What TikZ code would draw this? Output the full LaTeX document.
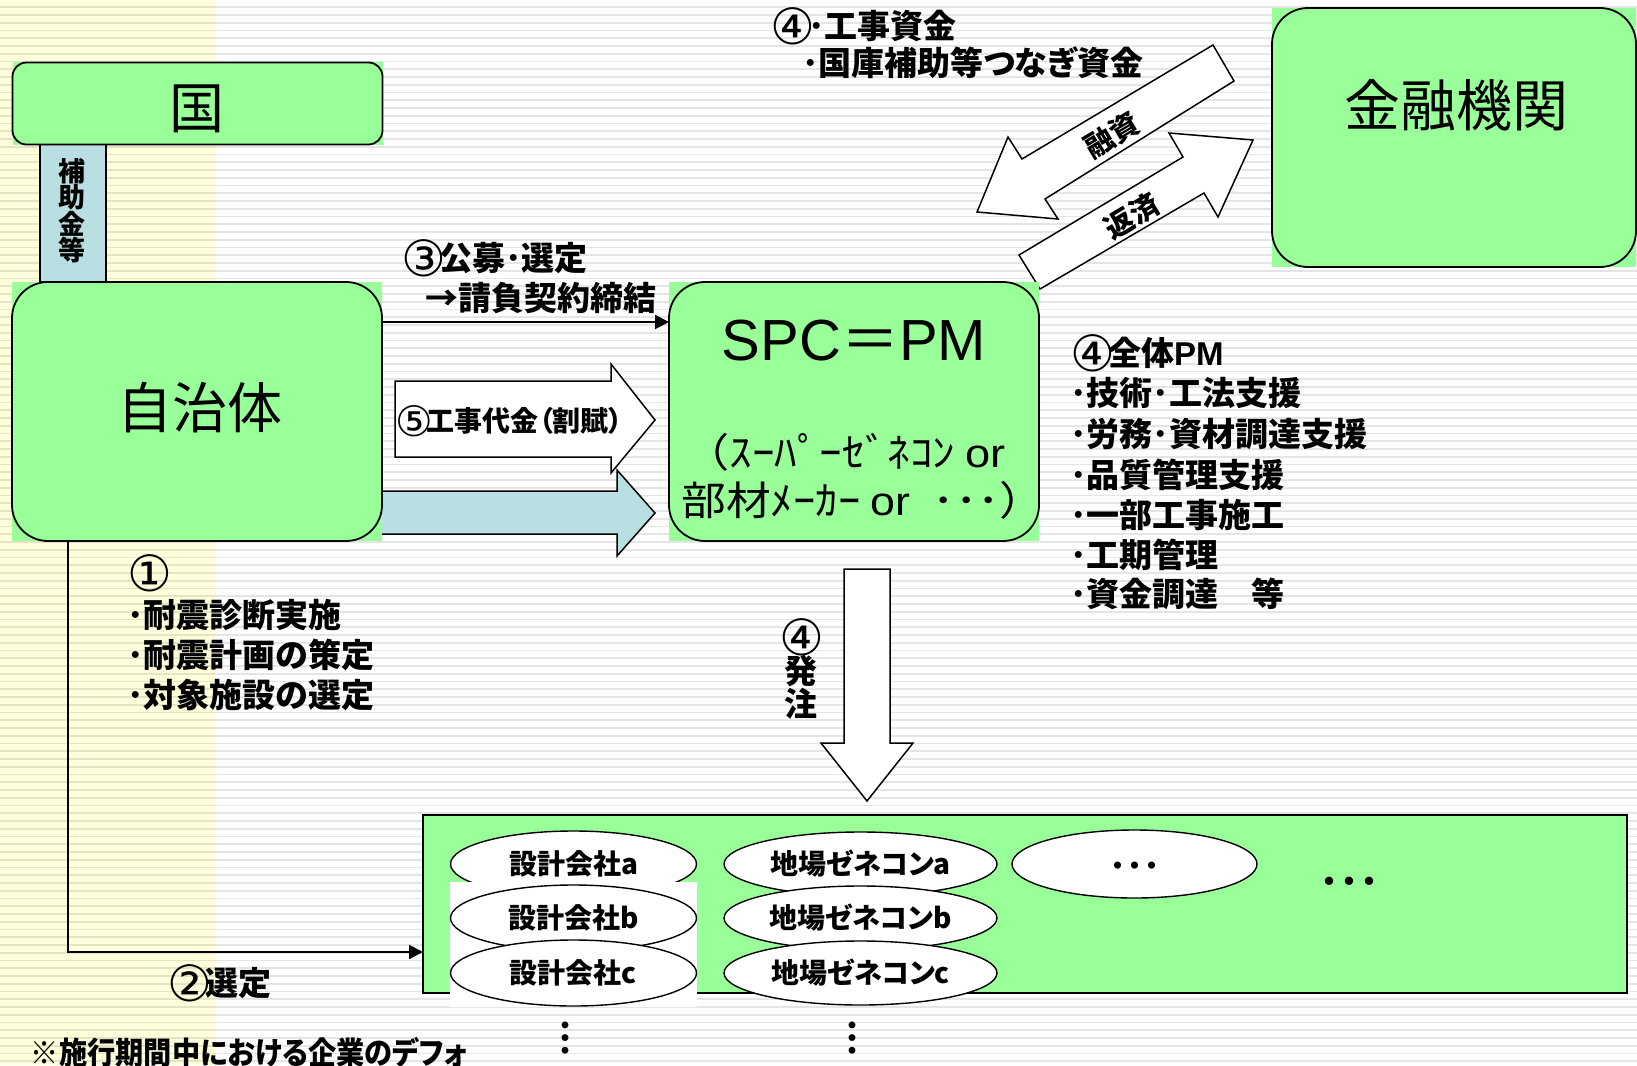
\documentclass[tikz,border=0pt]{standalone}
\usepackage{fontspec}
\setmainfont{Liberation Sans}
\newfontfamily\lat{Liberation Sans}
\newfontfamily\dv{DejaVu Sans}
\newfontfamily\jp[RawFeature=+palt]{Noto Sans CJK JP}
\newfontfamily\jpn{Noto Sans CJK JP}
% circled digit: [font size]{glyph}
\newcommand\circd[2][25]{\makebox[\dimexpr #1pt*19/25\relax][l]{\raisebox{\dimexpr -#1pt*3/25\relax}{\dv\mdseries\fontsize{#1}{#1}\selectfont #2}}}
\usetikzlibrary{arrows.meta,shapes.geometric}
\definecolor{pgreen}{HTML}{99FF99}
\definecolor{pblue}{HTML}{B9DFE3}
\definecolor{pyellow}{HTML}{FFFFDC}
\begin{document}
\begin{tikzpicture}[x=0.5pt,y=-0.5pt,
  every node/.style={inner sep=0pt, outer sep=0pt},
  gbox/.style={rectangle, fill=pgreen},
  rbord/.style={draw=black, line width=0.9pt},
  lbl/.style={font=\jp\bfseries\fontsize{16.5}{20}\selectfont, anchor=base west},
  big/.style={font=\jp\fontsize{27.5}{30}\selectfont},
  blk/.style={draw=black, line width=0.75pt, line join=miter},
  conn/.style={draw=black, line width=1pt, -{Triangle[length=7pt,width=7pt]}},
  ell/.style={ellipse, draw=black, fill=white, line width=0.7pt, font=\jp\bfseries\fontsize{14}{16}\selectfont},
  vdots/.style={font=\jp\bfseries\fontsize{19}{20}\selectfont},
  stripe/.style={draw=black, opacity=0.1, line width=0.9pt}
]
\useasboundingbox (0,0) rectangle (1637,1065);
\clip (0,0) rectangle (1637,1065);
% background
\fill[white] (0,0) rectangle (1637,1065);
\fill[pyellow] (0,0) rectangle (216,1065);
\foreach \k in {0,...,137} \draw[stripe] (0,{7.25+7.75*\k}) -- (1637,{7.25+7.75*\k});

% block arrows (behind boxes)
\draw[blk, fill=white] (395,381) -- (611,381) -- (611,364) -- (655,420) -- (611,473) -- (611,457) -- (395,457) -- cycle;
\draw[blk, fill=pblue] (370,491) -- (617,491) -- (617,470) -- (655,513) -- (617,556) -- (617,534) -- (370,534) -- cycle;
\draw[blk, fill=white] (1213,45) -- (1234,81) -- (1045,199) -- (1058,219) -- (977,212) -- (1008,137) -- (1022,159) -- cycle;
\draw[blk, fill=white] (1019,255) -- (1183,157) -- (1169,133) -- (1253,140) -- (1218,217) -- (1204,193) -- (1040,289) -- cycle;
\draw[blk, fill=white] (844,569) -- (890,569) -- (890,743) -- (913,743) -- (867,801) -- (821,743) -- (844,743) -- cycle;

% subsidy bar
\node[fill=pblue, draw=black, line width=0.9pt, minimum width=33pt, minimum height=69pt] (hojo) at (73,213) {};
\node[font=\jp\bfseries\fontsize{13.5}{13.25}\selectfont, align=center] (hojot) at (72,211) {補\\助\\金\\等};

% boxes
\node[gbox, minimum width=185pt, minimum height=41pt] (kuni) at (197.5,103.5) {};
\draw[rbord, rounded corners=7pt] (kuni.south west) rectangle (kuni.north east);
\node[gbox, minimum width=185pt, minimum height=129.5pt] (jichi) at (197,411.5) {};
\draw[rbord, rounded corners=18pt] (jichi.south west) rectangle (jichi.north east);
\node[gbox, minimum width=185pt, minimum height=129.5pt] (spc) at (854,411.5) {};
\draw[rbord, rounded corners=18pt] (spc.south west) rectangle (spc.north east);
\node[gbox, minimum width=182pt, minimum height=129.5pt] (kinyu) at (1454,137.5) {};
\draw[rbord, rounded corners=18pt] (kinyu.south west) rectangle (kinyu.north east);

\node[big] (kunit) at (197,109) {国};
\node[big] (jichit) at (200,408) {自治体};
\node[font=\jp\fontsize{28}{30}\selectfont] (kinyut) at (1456,105) {金融機関};
\node[font=\lat\fontsize{29}{32}\selectfont] (spct) at (854,341) {SPC{\jp ＝}PM};
\node[font=\jpn\fontsize{20}{22}\selectfont] (spcl1) at (845,452) {\scalebox{1.13}[1]{（ｽｰﾊﾟｰｾﾞﾈｺﾝ {\lat or}}};
\node[font=\jpn\fontsize{20}{22}\selectfont] (spcl2) at (863,500) {\scalebox{1.12}[1]{部材ﾒｰｶｰ {\lat or}\enspace ･･･）}};

% bottom box
\node[fill=pgreen, draw=black, line width=0.9pt, minimum width=602pt, minimum height=89pt] (bot) at (1025,904) {};
\node[ell, minimum width=123pt, minimum height=33pt] (da) at (573.5,864) {設計会社a};
\fill[white] (450,882) rectangle (697,1007);
\node[ell, minimum width=123pt, minimum height=33pt] (db) at (573.5,918) {設計会社b};
\node[ell, minimum width=123pt, minimum height=33pt] (dc) at (573.5,973) {設計会社c};
\node[ell, minimum width=136.5pt, minimum height=32pt] (ga) at (860.5,864) {地場ゼネコンa};
\node[ell, minimum width=136.5pt, minimum height=32pt] (gb) at (860.5,918) {地場ゼネコンb};
\node[ell, minimum width=136.5pt, minimum height=32pt] (gc) at (860.5,973) {地場ゼネコンc};
\node[ell, minimum width=122.5pt, minimum height=34pt] (oth) at (1134.5,864) {};
\node[font=\jp\bfseries\fontsize{17}{18}\selectfont] (otht) at (1134.5,870) {･･･};
\node[font=\jp\bfseries\fontsize{20}{22}\selectfont] (more) at (1349,887) {･･･};
\node[vdots] (vd1) at (565,1038) {︙};
\node[vdots] (vd2) at (852,1038) {︙};

% connectors
\coordinate (r3) at (0,322);
\draw[conn] (jichi.east |- r3) -- (spc.west |- r3);
\coordinate (sel) at (68,952);
\draw[conn] (jichi.south -| sel) -- (sel) -- (sel -| bot.west);

% labels
\node[font=\jp\bfseries\fontsize{14}{16}\selectfont, anchor=base west] (fivet) at (395,431) {\circd[21]{⑤}工事代金（割賦）};
\node[font=\jp\bfseries\fontsize{14.5}{15}\selectfont, rotate=31] (yushi) at (1112,135) {融資};
\node[font=\jp\bfseries\fontsize{14.5}{15}\selectfont, rotate=31] (hensai) at (1132,216) {返済};
\node[font=\dv\fontsize{25}{25}\selectfont] (h4) at (802,637) {④};
\node[font=\jp\bfseries\fontsize{16.5}{16.5}\selectfont] (h5) at (801,671) {発};
\node[font=\jp\bfseries\fontsize{16.5}{16.5}\selectfont] (h6) at (801,704) {注};

\node[lbl] (t1) at (770,38.5) {\circd{④}･工事資金};
\node[lbl] (t2) at (802,75.5) {･国庫補助等つなぎ資金};
\node[lbl] (s1) at (401,270.5) {\circd{③}公募･選定};
\node[lbl] (s2) at (425,310.5) {→請負契約締結};

\node[lbl] (p0) at (1070,365) {\circd{④}全体{\lat PM}};
\node[lbl] (p1) at (1070,405) {･技術･工法支援};
\node[lbl] (p2) at (1070,446) {･労務･資材調達支援};
\node[lbl] (p3) at (1070,487) {･品質管理支援};
\node[lbl] (p4) at (1070,527) {･一部工事施工};
\node[lbl] (p5) at (1070,567) {･工期管理};
\node[lbl] (p6) at (1070,606) {･資金調達　等};

\node[lbl] (q0) at (127,585.5) {\circd{①}};
\node[lbl] (q1) at (127,627.5) {･耐震診断実施};
\node[lbl] (q2) at (127,667.5) {･耐震計画の策定};
\node[lbl] (q3) at (127,707.5) {･対象施設の選定};

\node[lbl] (sel2) at (167,995.5) {\circd{②}選定};
\node[lbl, font=\jp\bfseries\fontsize{15.5}{18}\selectfont] (note) at (31,1064) {\scalebox{0.91}[1]{※施行期間中における企業のデフォ}};
\end{tikzpicture}
\end{document}
